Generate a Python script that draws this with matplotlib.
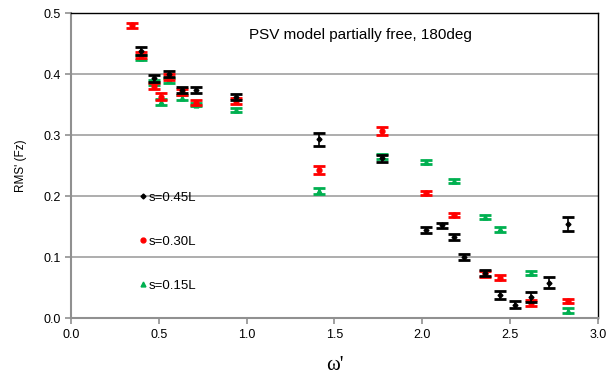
import matplotlib.pyplot as plt
from matplotlib.lines import Line2D

plt.rcParams.update({
    "font.family": ["Liberation Sans", "DejaVu Sans"],
    "font.size": 8,
})

# s = 0.45L
w_45 = [0.40, 0.47, 0.56, 0.63, 0.71, 0.94, 1.41, 1.77, 2.02, 2.11, 2.18, 2.24, 2.36, 2.44, 2.53, 2.62, 2.72, 2.83]
rms_45 = [0.438, 0.393, 0.400, 0.374, 0.374, 0.362, 0.293, 0.262, 0.145, 0.152, 0.133, 0.100, 0.074, 0.038, 0.022, 0.034, 0.058, 0.154]
err_45 = [0.006, 0.006, 0.005, 0.005, 0.005, 0.005, 0.011, 0.006, 0.005, 0.004, 0.005, 0.005, 0.005, 0.007, 0.006, 0.008, 0.009, 0.011]

# s = 0.30L
w_30 = [0.35, 0.40, 0.47, 0.51, 0.56, 0.63, 0.71, 0.94, 1.41, 1.77, 2.02, 2.18, 2.36, 2.44, 2.62, 2.83]
rms_30 = [0.480, 0.432, 0.381, 0.363, 0.396, 0.371, 0.353, 0.356, 0.243, 0.307, 0.205, 0.169, 0.072, 0.066, 0.025, 0.028]
err_30 = [0.004, 0.005, 0.005, 0.006, 0.005, 0.005, 0.004, 0.005, 0.006, 0.006, 0.003, 0.003, 0.005, 0.004, 0.005, 0.004]

# s = 0.15L
w_15 = [0.40, 0.47, 0.51, 0.56, 0.63, 0.71, 0.94, 1.41, 1.77, 2.02, 2.18, 2.36, 2.44, 2.62, 2.83]
rms_15 = [0.427, 0.387, 0.355, 0.390, 0.361, 0.350, 0.341, 0.209, 0.265, 0.256, 0.225, 0.166, 0.146, 0.074, 0.012]
err_15 = [0.004, 0.004, 0.005, 0.004, 0.004, 0.003, 0.003, 0.005, 0.004, 0.003, 0.003, 0.003, 0.004, 0.003, 0.004]

fig = plt.figure(figsize=(6.07, 3.87), dpi=100)
ax = fig.add_axes([0.117, 0.178, 0.868, 0.788])

ax.yaxis.grid(True, color="#a0a0a0", linewidth=1.2)
ax.set_axisbelow(True)

ax.errorbar(w_45, rms_45, yerr=err_45, fmt="D", color="black", markersize=2.5,
            capsize=4, elinewidth=1.2, capthick=2, zorder=5)
ax.errorbar(w_30, rms_30, yerr=err_30, fmt="o", color="#ff0000", markersize=3.5,
            capsize=4, elinewidth=1.2, capthick=2, zorder=4)
ax.errorbar(w_15, rms_15, yerr=err_15, fmt="^", color="#00b050", markersize=3.5,
            capsize=4, elinewidth=1.2, capthick=2, zorder=3)

ax.set_xlim(0, 3.0)
ax.set_ylim(0, 0.5)
ax.set_xticks([0.0, 0.5, 1.0, 1.5, 2.0, 2.5, 3.0])
ax.set_yticks([0.0, 0.1, 0.2, 0.3, 0.4, 0.5])
ax.xaxis.set_major_formatter(plt.FormatStrFormatter("%.1f"))
ax.yaxis.set_major_formatter(plt.FormatStrFormatter("%.1f"))
ax.tick_params(axis="both", direction="out", length=4, color="#909090",
               labelsize=9, width=1.2)

for side in ["left", "bottom"]:
    ax.spines[side].set_color("#909090")
    ax.spines[side].set_linewidth(1.5)
for side in ["top", "right"]:
    ax.spines[side].set_color("black")
    ax.spines[side].set_linewidth(1.0)

ax.set_ylabel("RMS' (Fz)", fontsize=8.5, labelpad=12)
ax.set_xlabel("\u03c9'", fontsize=15, family=["Liberation Serif"], labelpad=11)

ax.text(0.55, 0.928, "PSV model partially free, 180deg", transform=ax.transAxes,
        ha="center", va="center", fontsize=11)

handles = [
    Line2D([], [], marker="D", color="black", markersize=2.5, linestyle="none"),
    Line2D([], [], marker="o", color="#ff0000", markersize=3.5, linestyle="none"),
    Line2D([], [], marker="^", color="#00b050", markersize=3.5, linestyle="none"),
]
labels = ["s=0.45L", "s=0.30L", "s=0.15L"]
ax.legend(handles, labels, loc="center left", bbox_to_anchor=(0.13, 0.25),
          frameon=False, fontsize=9.5, labelspacing=2.4, handlelength=0.5,
          handletextpad=0.2, borderaxespad=0, borderpad=0)

fig.savefig("out.png", dpi=100)
